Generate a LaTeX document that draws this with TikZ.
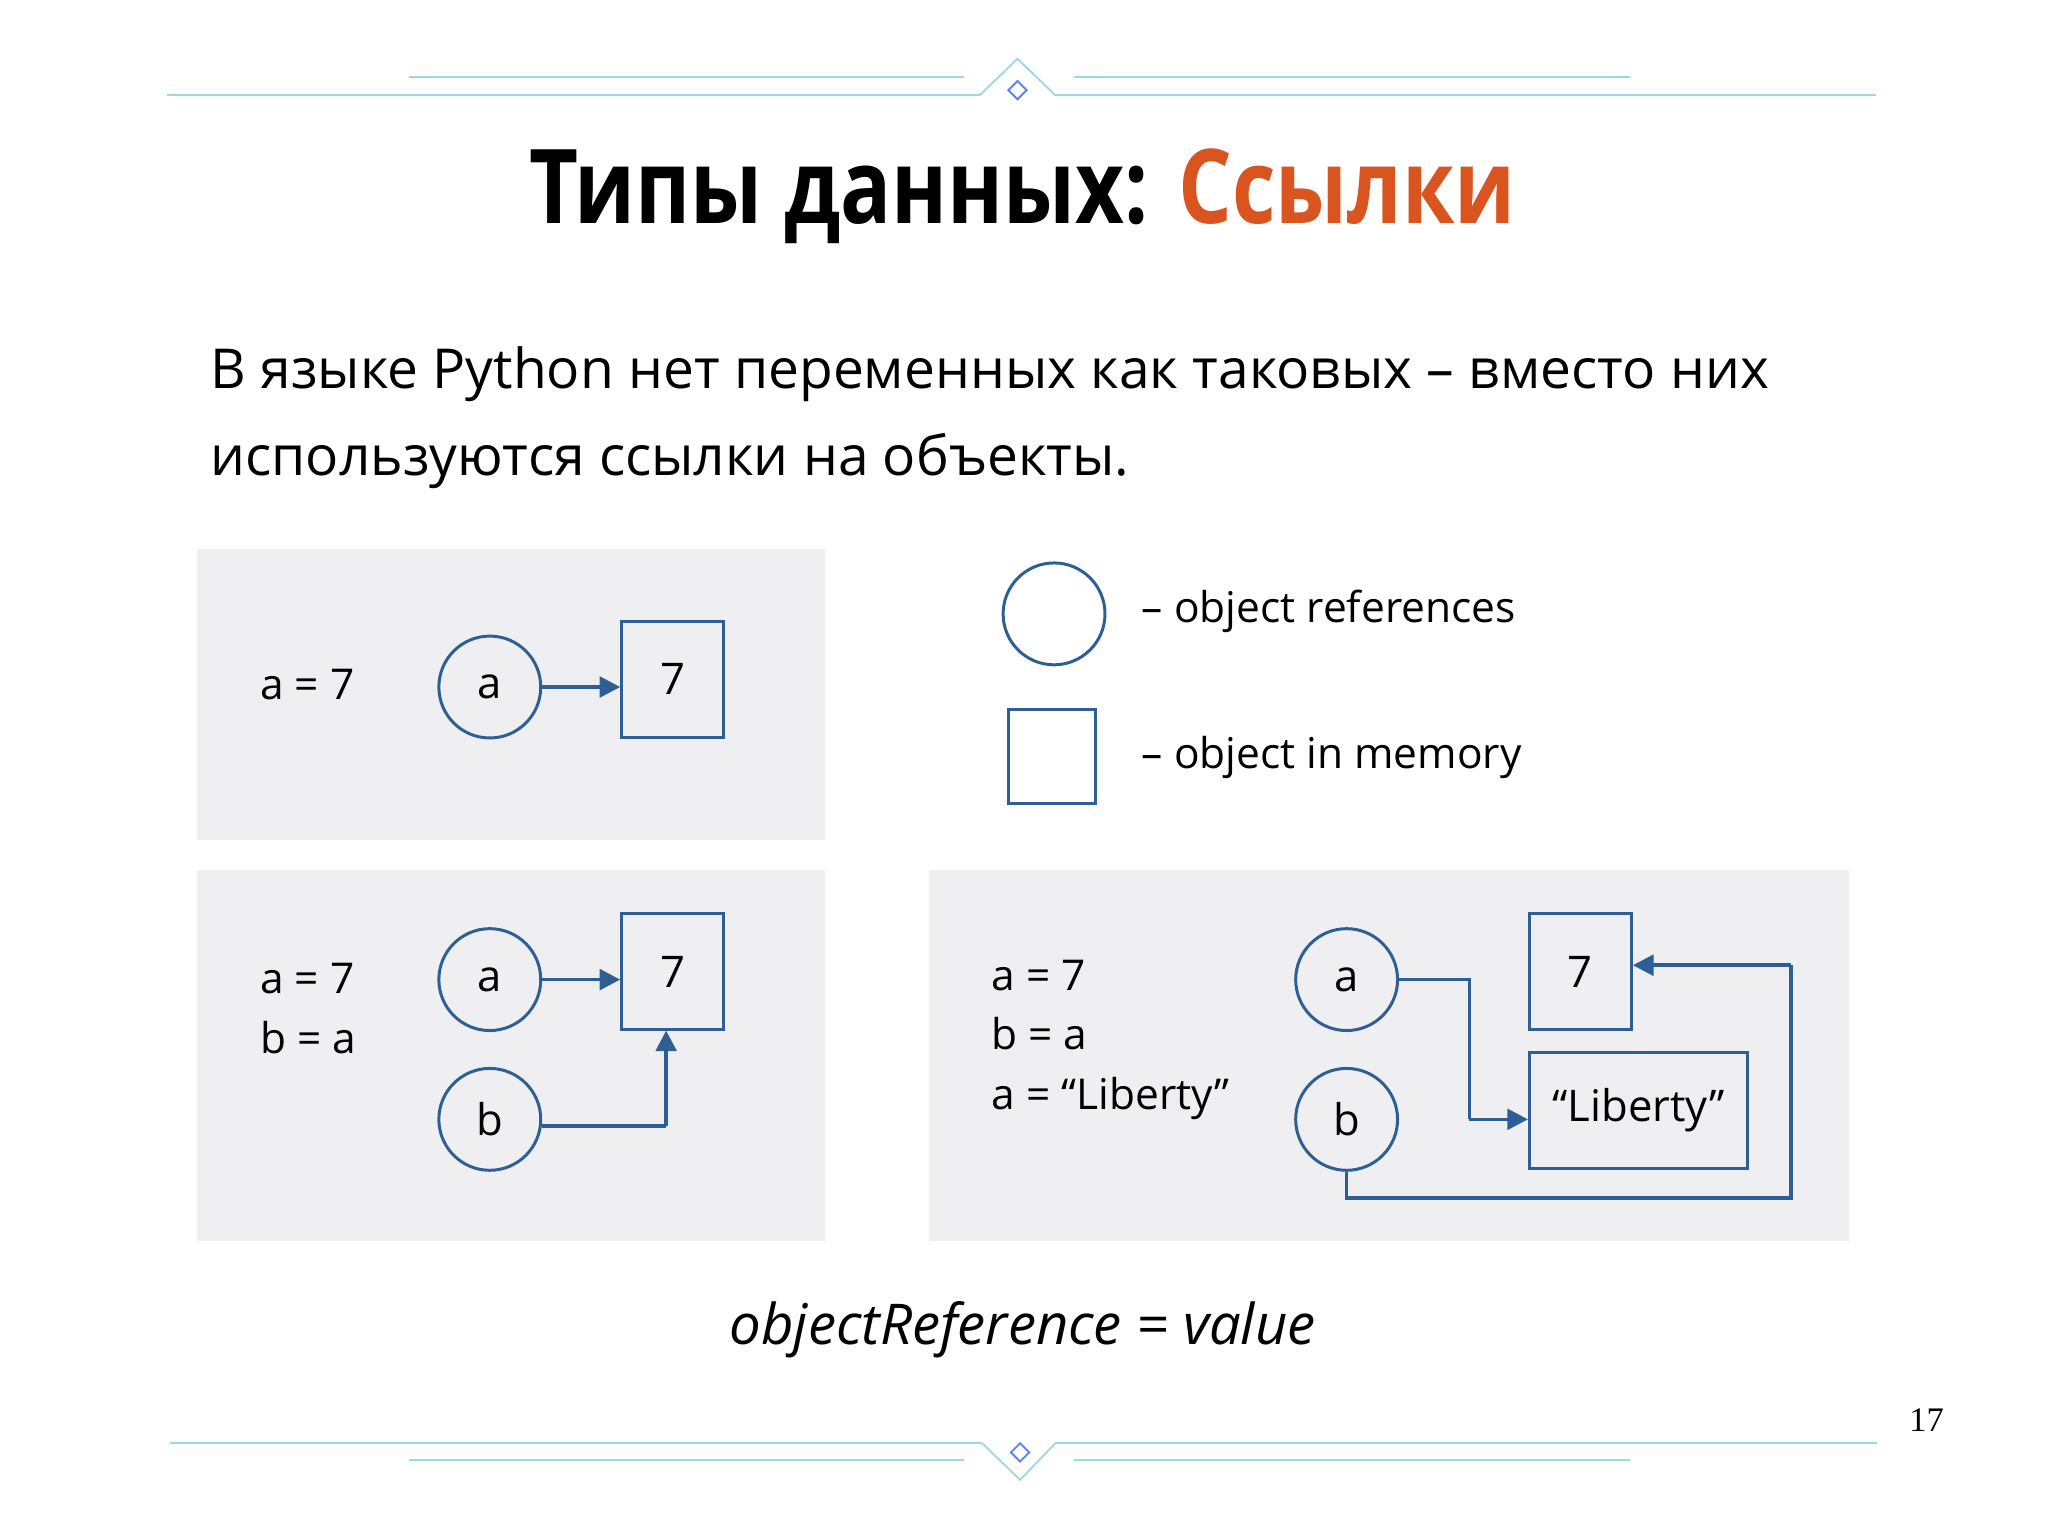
\documentclass[tikz,border=0pt]{standalone}
\usepackage{fontspec}
\setmainfont{Open Sans}
\usetikzlibrary{arrows.meta}
\definecolor{bl}{HTML}{2E5F94}
\definecolor{pan}{HTML}{EFEFF1}
\definecolor{cy}{HTML}{9ED6E6}
\definecolor{org}{HTML}{D9541E}
\begin{document}
\begin{tikzpicture}[x=0.02cm,y=-0.02cm,
  circ/.style={circle,draw=bl,line width=1.3pt,minimum size=78*0.02cm,inner sep=0,font=\fontsize{19}{24}\selectfont},
  sq/.style={draw=bl,line width=1.3pt,inner sep=0,font=\fontsize{19}{24}\selectfont},
  con/.style={draw=bl,line width=1.6pt},
  arr/.style={con,-{Triangle[length=9pt,width=9pt]}},
  code/.style={anchor=west,font=\fontsize{18.5}{24}\selectfont,align=left},
  deco/.style={draw=cy,line width=0.8pt}]
\useasboundingbox (0,0) rectangle (1568,1176);
% decorations
\draw[deco] (128,73)--(750,73) (808,73)--(1436,73) (313,59)--(738,59) (822,59)--(1248,59);
\draw[deco] (750,73)--(779,45)--(808,73);
\draw[deco,draw=cy!60!blue] (779,62)--(786,69)--(779,76)--(772,69)--cycle;
\draw[deco] (130,1105)--(752,1105) (808,1105)--(1437,1105) (313,1118)--(738,1118) (822,1118)--(1248,1118);
\draw[deco] (752,1105)--(781,1133)--(808,1105);
\draw[deco,draw=cy!60!blue] (781,1105)--(788,1112)--(781,1119)--(774,1112)--cycle;
% title
\node (title) at (783,150) {\scalebox{0.82}[1]{\fontsize{45}{54}\selectfont\bfseries Типы данных: \textcolor{org}{Ссылки}}};
\node[anchor=west,align=left,font=\fontsize{24}{38}\selectfont] (body) at (155,320)
 {В языке Python нет переменных как таковых – вместо них\\используются ссылки на объекты.};
% panels
\fill[pan] (151,420) rectangle (632,643);
\fill[pan] (151,666) rectangle (632,950);
\fill[pan] (711,666) rectangle (1416,950);
% panel 1
\node[code] (c1) at (193,524) {a = 7};
\node[circ] (a1) at (375,526) {a};
\node[sq,minimum width=78*0.02cm,minimum height=89*0.02cm] (s1) at (515,520) {7};
\draw[arr] (a1) -- (s1.west|-a1);
% panel 2
\node[code] (c2) at (193,772) {a = 7\\[2pt]b = a};
\node[circ] (a2) at (375,750) {a};
\node[circ] (b2) at (375,857) {b};
\node[sq,minimum width=78*0.02cm,minimum height=89*0.02cm] (s2) at (515,744) {7};
\draw[arr] (a2) -- (s2.west|-a2);
\coordinate (k2) at (510,862);
\draw[con] (b2.east|-k2) -- (k2);
\draw[arr] (k2) -- (510,789);
% panel 3
\node[code] (c3) at (753,796) {a = 7\\[2pt]b = a\\[2pt]a = “Liberty”};
\node[circ] (a3) at (1031,750) {a};
\node[circ] (b3) at (1031,857) {b};
\node[sq,minimum width=78*0.02cm,minimum height=89*0.02cm] (s3) at (1210,744) {7};
\node[sq,minimum width=167*0.02cm,minimum height=89*0.02cm] (lib) at (1254.5,850) {“Liberty”};
\coordinate (p1) at (1125,750);
\coordinate (p2) at (1125,857);
\draw[con] (a3) -- (p1) -- (p2);
\draw[arr] (p2) -- (lib.west|-p2);
\coordinate (q1) at (1031,917);
\coordinate (q2) at (1371,917);
\coordinate (q3) at (1371,739);
\draw[con] (b3.south) -- (q1) -- (q2) -- (q3);
\draw[arr] (q3) -- (s3.east|-q3);
% legend
\node[circ] (lc) at (807,470) {};
\node[sq,minimum width=67*0.02cm,minimum height=72*0.02cm] (ls) at (805.5,579) {};
\node[anchor=west,font=\fontsize{18.5}{24}\selectfont] (lt1) at (868,468) {– object references};
\node[anchor=west,font=\fontsize{18.5}{24}\selectfont] (lt2) at (868,580) {– object in memory};
% formula
\node (form) at (783,1018) {\fontsize{24.5}{30}\selectfont\itshape objectReference = value};
\node (pg) at (1475,1087) {\fontspec{Liberation Serif}\fontsize{15}{18}\selectfont 17};
\end{tikzpicture}
\end{document}
